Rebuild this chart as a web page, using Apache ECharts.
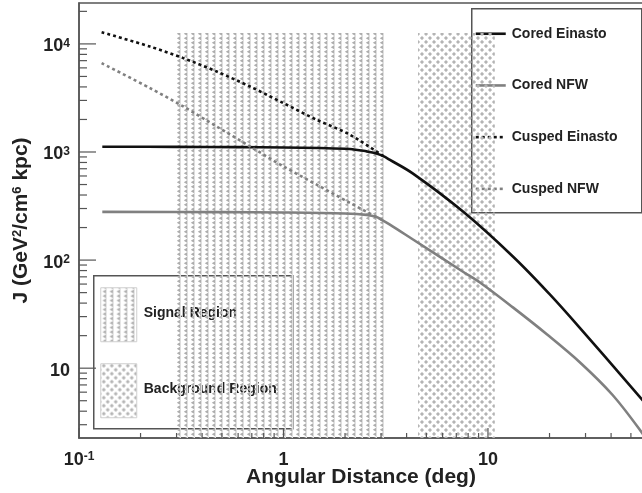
<!DOCTYPE html>
<html><head><meta charset="utf-8">
<script src="https://cdn.jsdelivr.net/npm/echarts@6/dist/echarts.min.js"></script>
<style>html,body{margin:0;padding:0;background:#fff}#c{width:642px;height:493px}</style>
</head><body><div id="c"></div>
<script>
// ---- axis ranges ----
const X_MIN = 0.1, X_MAX = 57.3;
const Y_MIN = 2.26, Y_MAX = 23900;

// ---- series data (angular distance in deg, J in GeV^2/cm^6 kpc) ----
const coredEinastoX = [0.13, 0.3, 0.6, 1.0, 1.5, 2.11, 2.55, 2.85, 3.08, 3.3, 4.3, 7.55, 13.24, 19.86, 28.2, 57.3];
const coredEinastoY = [1120, 1116, 1110, 1100, 1088, 1066, 1013, 970, 915, 850, 631, 281, 108, 49.2, 23.5, 5.0];

const coredNFWX = [0.13, 0.5, 1.0, 2.0, 2.55, 2.85, 3.07, 3.3, 4.3, 7.55, 9.14, 13.24, 19.4, 28.2, 40.8, 57.3];
const coredNFWY = [279, 278, 276, 270, 262, 250, 232, 214, 155, 78, 62, 36.5, 20.6, 11.3, 5.62, 2.45];

const cuspedEinastoX = [0.129, 0.2225, 0.3236, 0.4714, 0.6859, 0.9977, 1.453, 2.115, 3.08];
const cuspedEinastoY = [12830, 9446, 7387, 5550, 4034, 2835, 1987, 1445, 915];

const cuspedNFWX = [0.129, 0.2225, 0.3236, 0.4714, 0.6859, 0.9977, 1.453, 2.115, 3.07];
const cuspedNFWY = [6640, 3900, 2637, 1722, 1127, 737, 499, 338, 232];

// ---- shaded regions ----
const signalRegion = [0.3, 3.2];
const backgroundRegion = [4.55, 10.8];
const regionTop = 12600;

// ---- legend entries ----
const legendNames = ['Cored Einasto', 'Cored NFW', 'Cusped Einasto', 'Cusped NFW'];
const regionNames = ['Signal Region', 'Background Region'];

// ---- tick values ----
const yMajorTicks = [10, 100, 1000, 10000];
const xMajorTicks = [0.1, 1, 10];
const yMinorTicks = [], xMinorTicks = [];
[1, 10, 100, 1000, 10000].forEach(d => { for (let k = 2; k <= 9; k++) { const v = k * d; if (v > Y_MIN && v < Y_MAX) yMinorTicks.push(v); } });
[0.1, 1, 10].forEach(d => { for (let k = 2; k <= 9; k++) { const v = k * d; if (v > X_MIN && v < X_MAX) xMinorTicks.push(v); } });

const zip = (xs, ys) => xs.map((x, i) => [x, ys[i]]);

function signalPattern() {
  const c = document.createElement('canvas'); c.width = 7; c.height = 9;
  const g = c.getContext('2d');
  g.fillStyle = '#dedede'; g.fillRect(5, 0, 1, 9);
  g.fillStyle = '#adadad';
  [0, 4.5].forEach(y0 => { g.beginPath(); g.moveTo(1.8, y0 + 2.25); g.lineTo(5, y0 + 0.3); g.lineTo(5, y0 + 4.2); g.closePath(); g.fill(); });
  return c;
}
function bgPattern() {
  const c = document.createElement('canvas'); c.width = 8; c.height = 8;
  const g = c.getContext('2d');
  g.fillStyle = '#b4b4b4';
  [[2, 2], [6, 6]].forEach(([cx, cy]) => { g.beginPath(); g.moveTo(cx - 2.1, cy); g.lineTo(cx, cy - 2.1); g.lineTo(cx + 2.1, cy); g.lineTo(cx, cy + 2.1); g.closePath(); g.fill(); });
  return c;
}
const sigPat = signalPattern(), bgPat = bgPattern();

const FONT = '"Liberation Sans", Arial, Helvetica, sans-serif';
const TXT = '#222';
const BLACK = '#111', GREY = '#808080';
const isPow10 = v => Math.abs(Math.log10(v) - Math.round(Math.log10(v))) < 1e-6;
const supFmt = (v) => {
  const e = Math.round(Math.log10(v));
  if (e === 0) return '1';
  if (e === 1) return '10';
  return '10{sup|' + e + '}';
};
const labelRich = {
  sup: { fontSize: 12, fontWeight: 'bold', fontFamily: FONT, color: TXT, verticalAlign: 'top', lineHeight: 14 }
};

const chart = echarts.init(document.getElementById('c'), null, { renderer: 'canvas' });

// legend (line samples + labels)
const lineLegendChildren = [
  { type: 'rect', shape: { x: 0, y: 0, width: 170, height: 204 }, style: { fill: '#fff', stroke: '#555', lineWidth: 1.5, lineDash: [400, 0] } }
];
const legendStyles = [
  { stroke: BLACK, lineDash: [40, 0] }, { stroke: GREY, lineDash: [40, 0] },
  { stroke: BLACK, lineDash: [3, 3] }, { stroke: GREY, lineDash: [3, 3] }
];
legendNames.forEach((name, i) => {
  const cy = 25 + i * 51.7;
  lineLegendChildren.push({ type: 'polyline', shape: { points: [[4, cy], [34, cy]] }, style: { fill: null, stroke: legendStyles[i].stroke, lineWidth: 2.6, lineDash: legendStyles[i].lineDash } });
  lineLegendChildren.push({ type: 'text', x: 40, y: cy, style: { text: name, fontSize: 14, fontWeight: 'bold', fontFamily: FONT, fill: TXT, verticalAlign: 'middle' } });
});

const GRID_LEFT = 79, GRID_TOP = 3;
chart.setOption({
  animation: false,
  backgroundColor: '#fff',
  grid: { left: GRID_LEFT, top: GRID_TOP, width: 564, height: 435, containLabel: false, outerBoundsMode: 'none',
    show: true, borderColor: '#555', borderWidth: 1.5, backgroundColor: 'transparent' },
  xAxis: {
    type: 'log', logBase: 10, min: X_MIN, max: X_MAX,
    axisLine: { show: true, lineStyle: { color: '#555', width: 1.5 } },
    axisTick: { show: false }, splitLine: { show: false }, minorTick: { show: false },
    axisLabel: {
      margin: 13, fontSize: 18, fontWeight: 'bold', fontFamily: FONT, color: TXT,
      formatter: v => isPow10(v) ? supFmt(v) : '', rich: labelRich,
      showMinLabel: true, showMaxLabel: true
    },
    name: 'Angular Distance (deg)', nameLocation: 'middle', nameGap: 29, nameMoveOverlap: false,
    nameTextStyle: { fontSize: 21, fontWeight: 'bold', fontFamily: FONT, color: TXT }
  },
  yAxis: {
    type: 'log', logBase: 10, min: Y_MIN, max: Y_MAX,
    axisLine: { show: true, lineStyle: { color: '#555', width: 1.5 } },
    axisTick: { show: false }, splitLine: { show: false }, minorTick: { show: false },
    axisLabel: {
      margin: 9, fontSize: 18, fontWeight: 'bold', fontFamily: FONT, color: TXT, padding: [5, 0, 0, 0],
      formatter: v => isPow10(v) ? supFmt(v) : '', rich: labelRich
    },
    name: 'J (GeV{sup|2}/cm{sup|6} kpc)', nameLocation: 'middle', nameGap: 47, nameRotate: 90, nameMoveOverlap: false,
    nameTextStyle: { fontSize: 21, fontWeight: 'bold', fontFamily: FONT, color: TXT,
      rich: { sup: { fontSize: 13, fontWeight: 'bold', fontFamily: FONT, color: TXT, verticalAlign: 'top', lineHeight: 13 } } }
  },
  graphic: [
    { type: 'group', left: 471, top: 8, z: 100, children: lineLegendChildren },
    {
      type: 'group', left: 93, top: 275, z: 100,
      children: [
        { type: 'rect', shape: { x: 0, y: 0, width: 199, height: 153 }, style: { fill: '#fff', stroke: '#555', lineWidth: 1.5, lineDash: [400, 0] } },
        { type: 'rect', shape: { x: 7, y: 12, width: 36, height: 54 }, style: { fill: { image: sigPat, repeat: 'repeat' }, stroke: '#cfcfcf', lineWidth: 1 } },
        { type: 'rect', shape: { x: 7, y: 88, width: 36, height: 54 }, style: { fill: { image: bgPat, repeat: 'repeat' }, stroke: '#cfcfcf', lineWidth: 1 } },
        { type: 'text', x: 50, y: 37, style: { text: regionNames[0], fontSize: 14, fontWeight: 'bold', fontFamily: FONT, fill: TXT, verticalAlign: 'middle' } },
        { type: 'text', x: 50, y: 113, style: { text: regionNames[1], fontSize: 14, fontWeight: 'bold', fontFamily: FONT, fill: TXT, verticalAlign: 'middle' } }
      ]
    }
  ],
  series: [
    {
      name: legendNames[0], type: 'line', data: zip(coredEinastoX, coredEinastoY),
      showSymbol: false, symbol: 'none', smooth: 0.35, z: 3,
      lineStyle: { color: BLACK, width: 2.6 }, itemStyle: { color: BLACK },
      markArea: {
        silent: true,
        data: [
          [{ xAxis: signalRegion[0], yAxis: Y_MIN, itemStyle: { color: { image: sigPat, repeat: 'repeat' } } }, { xAxis: signalRegion[1], yAxis: regionTop }],
          [{ xAxis: backgroundRegion[0], yAxis: Y_MIN, itemStyle: { color: { image: bgPat, repeat: 'repeat' } } }, { xAxis: backgroundRegion[1], yAxis: regionTop }]
        ]
      }
    },
    {
      name: legendNames[1], type: 'line', data: zip(coredNFWX, coredNFWY),
      showSymbol: false, symbol: 'none', smooth: 0.35, z: 3,
      lineStyle: { color: GREY, width: 2.6 }, itemStyle: { color: GREY }
    },
    {
      name: legendNames[2], type: 'line', data: zip(cuspedEinastoX, cuspedEinastoY),
      showSymbol: false, symbol: 'none', smooth: 0.3, z: 3,
      lineStyle: { color: BLACK, width: 2.6, type: [3, 3] }, itemStyle: { color: BLACK }
    },
    {
      name: legendNames[3], type: 'line', data: zip(cuspedNFWX, cuspedNFWY),
      showSymbol: false, symbol: 'none', smooth: 0.3, z: 3,
      lineStyle: { color: GREY, width: 2.6, type: [3, 3] }, itemStyle: { color: GREY }
    },
    {
      name: 'yTicks', type: 'custom', silent: true, clip: false, z: 5,
      data: yMajorTicks.map(v => [X_MIN, v, 1]).concat(yMinorTicks.map(v => [X_MIN, v, 0])),
      renderItem: (params, api) => {
        const p = api.coord([api.value(0), api.value(1)]);
        const len = api.value(2) ? 17 : 8;
        return { type: 'line', shape: { x1: p[0], y1: p[1], x2: p[0] + len, y2: p[1] }, style: { stroke: '#555', lineWidth: 1.2 } };
      }
    },
    {
      name: 'xTicks', type: 'custom', silent: true, clip: false, z: 5,
      data: xMajorTicks.map(v => [v, Y_MIN, 1]).concat(xMinorTicks.map(v => [v, Y_MIN, 0])),
      renderItem: (params, api) => {
        const p = api.coord([api.value(0), api.value(1)]);
        const len = api.value(2) ? 10 : 5;
        return { type: 'line', shape: { x1: p[0], y1: p[1], x2: p[0], y2: p[1] - len }, style: { stroke: '#555', lineWidth: 1.2 } };
      }
    }
  ]
});
</script>
</body></html>
